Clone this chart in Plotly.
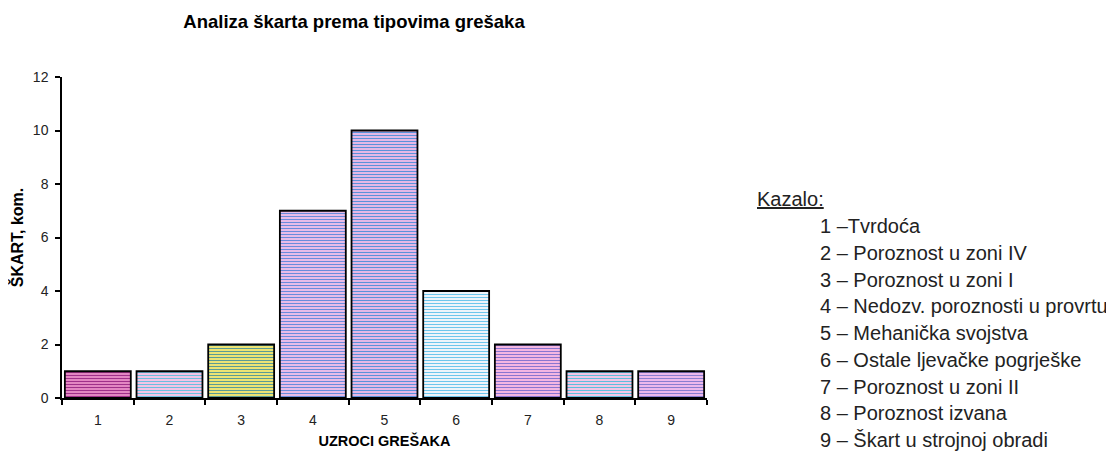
import plotly.graph_objects as go

# data
uzroci = ["1", "2", "3", "4", "5", "6", "7", "8", "9"]
skart = [1, 1, 2, 7, 10, 4, 2, 1, 1]
kazalo = [
    "1 –Tvrdoća",
    "2 – Poroznost u zoni IV",
    "3 – Poroznost u zoni I",
    "4 – Nedozv. poroznosti u provrtu",
    "5 – Mehanička svojstva",
    "6 – Ostale ljevačke pogrješke",
    "7 – Poroznost u zoni II",
    "8 – Poroznost izvana",
    "9 – Škart u strojnoj obradi",
]

# stripe colours (background, line) per bar
bg_colors = ["#e386c2", "#f2c4e6", "#ece474", "#e8bce8", "#e4b8e6",
             "#eef4fa", "#f4b6e2", "#f2c6e6", "#ecb8ec"]
fg_colors = ["#a0308a", "#6cbede", "#5c9c94", "#6a8cdc", "#5c92da",
             "#6ec6ec", "#8a76d0", "#5ebedc", "#8a7ed0"]

FONT = "Liberation Sans, Arial, sans-serif"

# page body adds an 8px offset, so layout is expressed in figure pixels
L, T, R, B = 54, 69, 699, 390

fig = go.Figure()
# one trace per bar so every bar gets its own stripe colours
for cat, val, bg, fg in zip(uzroci, skart, bg_colors, fg_colors):
    fig.add_trace(go.Bar(
        x=[cat],
        y=[val],
        marker=dict(
            color=bg,
            line=dict(color="black", width=1.8),
            pattern=dict(shape="-", fgcolor=fg, fgopacity=1,
                         size=3, solidity=0.34, fillmode="overlay"),
        ),
        width=0.92,
        showlegend=False,
    ))

fig.update_layout(
    width=1114,
    height=453,
    barmode="overlay",
    paper_bgcolor="white",
    plot_bgcolor="white",
    margin=dict(l=L, r=1114 - R, t=T, b=453 - B, autoexpand=False),
    font=dict(family=FONT, size=14, color="black"),
    title=dict(text="<b>Analiza škarta prema tipovima grešaka</b>",
               x=346 / 1114, xref="container", xanchor="center",
               y=1 - 14 / 453, yref="container", yanchor="middle",
               font=dict(size=18.5, color="black")),
    xaxis=dict(
        type="category", categoryorder="array", categoryarray=uzroci,
        showline=True, linecolor="black", linewidth=1.5,
        ticks="outside", tickson="boundaries", ticklen=5,
        tickcolor="black", tickwidth=1.5, ticklabelstandoff=8,
        showgrid=False, zeroline=False,
        tickfont=dict(size=14, color="#222"),
        title=dict(text="<b>UZROCI GREŠAKA</b>", font=dict(size=14.5), standoff=9),
    ),
    yaxis=dict(
        range=[0, 12], dtick=2,
        showline=True, linecolor="black", linewidth=1.5,
        ticks="outside", ticklen=5, tickcolor="black", tickwidth=1.5,
        ticklabelstandoff=4,
        showgrid=False, zeroline=False,
        tickfont=dict(size=14, color="#222"),
        title=dict(text="<b>ŠKART, kom.</b>", font=dict(size=16), standoff=5),
    ),
)

# legend ("Kazalo") as annotations
px_w = R - L
px_h = B - T


def xp(px):
    return (px - 8 - L) / px_w


def yp(py):
    return (B - (py - 8)) / px_h


fig.add_annotation(text="<u>Kazalo:</u>", x=xp(755), y=yp(199),
                   xref="paper", yref="paper", xanchor="left", yanchor="middle",
                   showarrow=False, font=dict(size=20, color="#222", family=FONT))
for i, t in enumerate(kazalo):
    fig.add_annotation(text=t, x=xp(818), y=yp(226 + 26.75 * i),
                       xref="paper", yref="paper", xanchor="left", yanchor="middle",
                       showarrow=False, font=dict(size=20, color="#222", family=FONT))

fig.write_html("out.html")
